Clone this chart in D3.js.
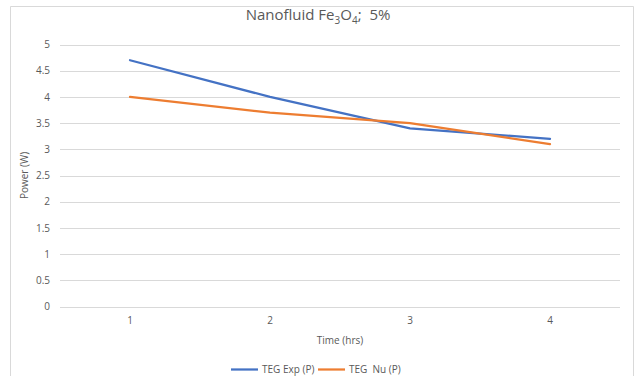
<!DOCTYPE html>
<html>
<head>
<meta charset="utf-8">
<script src="https://cdn.jsdelivr.net/npm/d3@7"></script>
<style>
  html, body { margin: 0; padding: 0; background: #fff; }
  svg { display: block; }
  text { font-family: "Open Sans", "Liberation Sans", sans-serif; fill: #595959; }
</style>
</head>
<body>
<svg id="chart" width="635" height="376"></svg>
<script>
// Time points (hrs)
const categories = ["1", "2", "3", "4"];
// TEG experimental power (W)
const expValues = [4.7, 4.0, 3.4, 3.2];
// TEG numerical power (W)
const nuValues = [4.0, 3.7, 3.5, 3.1];
// Y axis ticks
const yTicks = [0, 0.5, 1, 1.5, 2, 2.5, 3, 3.5, 4, 4.5, 5];

const seriesList = [
  { name: "TEG Exp (P)", values: expValues, color: "#4472C4" },
  { name: "TEG\u00a0\u00a0Nu (P)", values: nuValues, color: "#ED7D31" }
];

const svg = d3.select("#chart");
const W = 635, H = 376;

// chart area frame (open at bottom)
svg.append("path")
  .attr("d", `M10.5,${H} V6.5 H633.5 V${H}`)
  .attr("fill", "none")
  .attr("stroke", "#d9d9d9")
  .attr("stroke-width", 1);

const plot = { left: 60, right: 620, top: 44.5, bottom: 306.5 };

const x = d3.scaleBand().domain(categories).range([plot.left, plot.right]);
const y = d3.scaleLinear().domain([0, 5]).range([plot.bottom, plot.top]);

// horizontal gridlines
svg.append("g")
  .selectAll("line")
  .data(yTicks)
  .join("line")
  .attr("x1", plot.left).attr("x2", plot.right)
  .attr("y1", d => Math.round(y(d)) + 0.5).attr("y2", d => Math.round(y(d)) + 0.5)
  .attr("stroke", "#d9d9d9").attr("stroke-width", 1);

// y axis labels
const yAxis = svg.append("g")
  .attr("transform", `translate(${plot.left},0)`)
  .call(d3.axisLeft(y).tickValues(yTicks).tickSize(0).tickPadding(10).tickFormat(d => String(d)));
yAxis.select(".domain").remove();
yAxis.selectAll("text").style("font-size", "10px").attr("fill", "#595959");

// x axis labels
const xAxis = svg.append("g")
  .attr("transform", `translate(0,${plot.bottom})`)
  .call(d3.axisBottom(x).tickSize(0).tickPadding(10));
xAxis.select(".domain").remove();
xAxis.selectAll("text").style("font-size", "10px").attr("fill", "#595959");

// title
const title = svg.append("text")
  .attr("x", 318).attr("y", 20)
  .attr("text-anchor", "middle")
  .style("font-size", "15px");
title.append("tspan").text("Nanofluid Fe");
title.append("tspan").text("3").attr("dy", 4).style("font-size", "10px");
title.append("tspan").text("O").attr("dy", -4);
title.append("tspan").text("4").attr("dy", 4).style("font-size", "10px");
title.append("tspan").text(";\u00a0\u00a05%").attr("dy", -4);

// axis titles
svg.append("text")
  .attr("x", 340).attr("y", 344)
  .attr("text-anchor", "middle")
  .style("font-size", "10px")
  .text("Time (hrs)");

svg.append("text")
  .attr("transform", `translate(28,${(plot.top + plot.bottom) / 2}) rotate(-90)`)
  .attr("text-anchor", "middle")
  .style("font-size", "10px")
  .text("Power (W)");

// lines
const line = d3.line()
  .x((d, i) => x(categories[i]) + x.bandwidth() / 2)
  .y(d => y(d));

svg.append("g")
  .selectAll("path")
  .data(seriesList)
  .join("path")
  .attr("d", s => line(s.values))
  .attr("fill", "none")
  .attr("stroke", s => s.color)
  .attr("stroke-width", 2.25)
  .attr("stroke-linejoin", "round")
  .attr("stroke-linecap", "round");

// legend
const legendItems = [
  { x: 231, s: seriesList[0] },
  { x: 318, s: seriesList[1] }
];
const lg = svg.append("g").selectAll("g").data(legendItems).join("g")
  .attr("transform", d => `translate(${d.x},369.5)`);
lg.append("line")
  .attr("x1", 0).attr("x2", 27)
  .attr("stroke", d => d.s.color).attr("stroke-width", 2.25);
lg.append("text")
  .attr("x", 31).attr("dy", "0.35em")
  .style("font-size", "10px")
  .text(d => d.s.name);
</script>
</body>
</html>
